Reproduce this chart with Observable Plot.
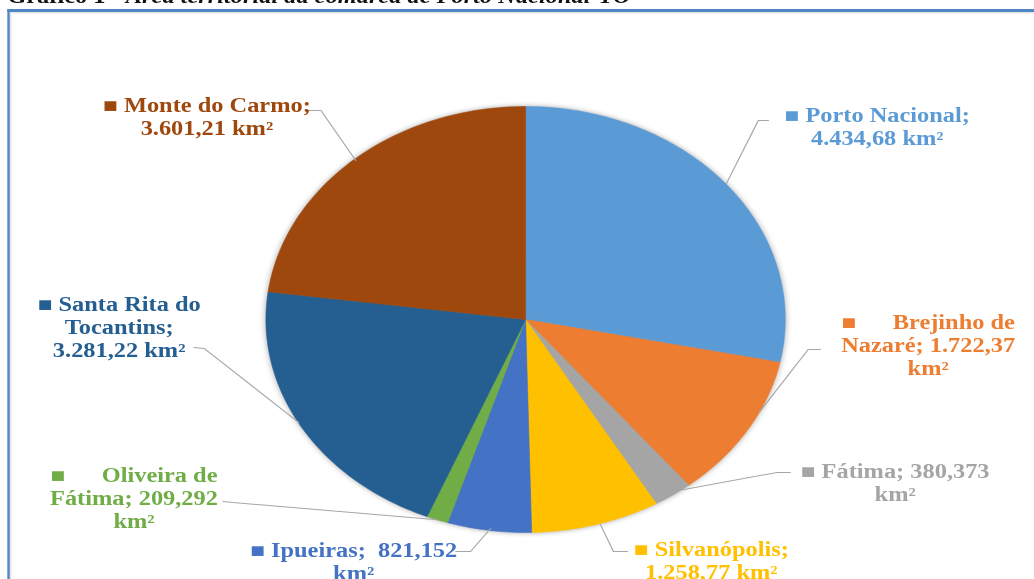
<!DOCTYPE html>
<html><head><meta charset="utf-8">
<script src="https://cdn.jsdelivr.net/npm/d3@7"></script>
<script src="https://cdn.jsdelivr.net/npm/@observablehq/plot@0.6"></script>
<style>
html,body{margin:0;padding:0;background:#fff;overflow:hidden;}
#page{position:relative;width:848px;height:579px;transform:scaleX(1.2193);transform-origin:0 0;}
#title{position:absolute;left:6px;top:-14px;font-family:"Liberation Serif",serif;font-weight:bold;font-size:20px;line-height:20px;white-space:nowrap;color:#111;}
#frame{position:absolute;left:5.5px;top:9px;width:1000px;height:700px;border-top:3px solid #4F86C6;border-left:2.6px solid #4F86C6;box-sizing:border-box;box-shadow:inset 1px 1px 0 #e4e4e4, inset 2px 2px 0 #f3f3f3;}
#chart{position:absolute;left:0;top:0;}
</style></head>
<body>
<div id="page">
  <div id="title">Gráfico 1 - <i>Área territorial da comarca de Porto Nacional-TO</i></div>
  <div id="frame"></div>
  <div id="chart"></div>
</div>
<script>
// ---- data ----
const municipios = ["Porto Nacional","Brejinho de Nazaré","Fátima","Silvanópolis","Ipueiras","Oliveira de Fátima","Santa Rita do Tocantins","Monte do Carmo"];
const areas = [4434.68, 1722.37, 380.373, 1258.77, 821.152, 209.292, 3281.22, 3601.21];
const cores = ["#5B9BD5","#ED7D31","#A5A5A5","#FFC000","#4472C4","#70AD47","#255E91","#9E480E"];
const NB = "\u00a0";
const rotulos = [
  ["■ Porto Nacional;", "4.434,68 km²"],
  ["■" + NB.repeat(6) + "Brejinho de", "Nazaré; 1.722,37", "km²"],
  ["■ Fátima; 380,373", "km²"],
  ["■ Silvanópolis;", "1.258,77 km²"],
  ["■ Ipueiras;" + NB + NB + "821,152", "km²"],
  ["■" + NB.repeat(6) + "Oliveira de", "Fátima; 209,292", "km²"],
  ["■ Santa Rita do", "Tocantins;", "3.281,22 km²"],
  ["■ Monte do Carmo;", "3.601,21 km²"]
];

// ---- layout (unit-circle coordinates) ----
const labelX = [1.354, 1.55, 1.423, 0.715, -0.662, -1.508, -1.565, -1.227];
const labelY = [0.908, -0.117, -0.763, -1.129, -1.134, -0.836, -0.033, 0.955];
const leaders = [
  [[0.935,0.934],[0.896,0.934],[0.773,0.638]],
  [[1.135,-0.141],[1.088,-0.141],[0.900,-0.435]],
  [[1.019,-0.718],[0.969,-0.718],[0.600,-0.800]],
  [[0.392,-1.089],[0.338,-1.089],[0.288,-0.962]],
  [[-0.269,-1.089],[-0.212,-1.089],[-0.135,-0.981]],
  [[-1.165,-0.854],[-1.127,-0.859],[-0.340,-0.940]],
  [[-1.277,-0.131],[-1.238,-0.136],[-0.873,-0.484]],
  [[-0.835,0.981],[-0.788,0.981],[-0.654,0.746]]
];

// ---- build slice polygons ----
const total = d3.sum(areas);
const slicePts = [];
let acc = 0;
areas.forEach((v, i) => {
  const a0 = acc / total * 2 * Math.PI;
  acc += v;
  const a1 = acc / total * 2 * Math.PI;
  const name = municipios[i];
  slicePts.push({name, x: 0, y: 0});
  const n = Math.max(2, Math.ceil((a1 - a0) / (Math.PI / 180)));
  for (let k = 0; k <= n; k++) {
    const a = a0 + (a1 - a0) * k / n;
    slicePts.push({name, x: Math.sin(a), y: Math.cos(a)});
  }
  slicePts.push({name, x: 0, y: 0});
});

const leaderPts = leaders.flatMap((pts, i) => pts.map(([x, y]) => ({name: municipios[i], x, y})));
const labels = municipios.map((name, i) => ({name, x: labelX[i], y: labelY[i], text: rotulos[i].join("\n")}));

const sx = 1.2193, cx = 525 / sx, r = 213;
const chart = Plot.plot({
  width: 848,
  height: 579,
  margin: 0,
  style: {background: "transparent", overflow: "visible"},
  x: {domain: [-1, 1], range: [cx - r, cx + r], axis: null},
  y: {domain: [-1, 1], range: [319 + r, 319 - r], axis: null},
  color: {domain: municipios, range: cores},
  marks: [
    Plot.line(slicePts, {x: "x", y: "y", z: "name", fill: "name", stroke: "name", strokeWidth: 0.5, curve: "linear"}),
    Plot.line(leaderPts, {x: "x", y: "y", z: "name", stroke: "#A6A6A6", strokeWidth: 1, curve: "linear"}),
    Plot.text(labels, {x: "x", y: "y", text: "text", fill: "name", fontSize: 20, fontWeight: "bold",
      fontFamily: "Liberation Serif", lineHeight: 1.15, textAnchor: "middle"})
  ]
});
document.getElementById("chart").appendChild(chart);
const pie = chart.querySelector('g[aria-label="line"]');
if (pie) pie.style.filter = "drop-shadow(0px 0px 2.5px rgba(0,0,0,0.35))";
</script>
</body></html>
